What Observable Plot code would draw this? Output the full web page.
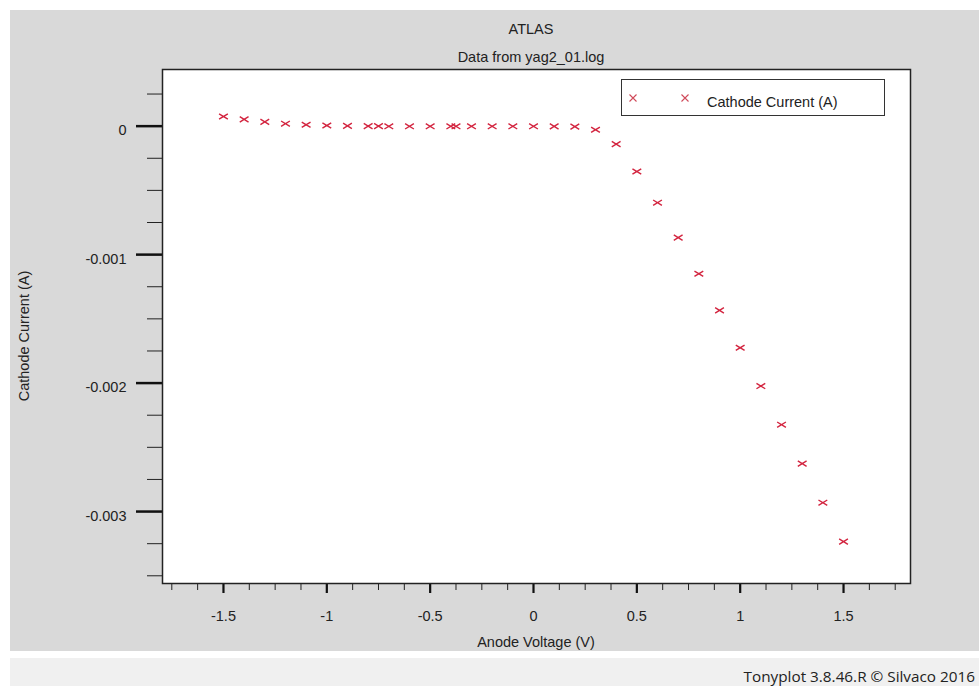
<!DOCTYPE html>
<html>
<head>
<meta charset="utf-8">
<script src="https://cdn.jsdelivr.net/npm/d3@7"></script>
<script src="https://cdn.jsdelivr.net/npm/@observablehq/plot@0.6"></script>
<style>
  html, body { margin: 0; padding: 0; background: #ffffff; }
  body { width: 979px; height: 686px; position: relative; overflow: hidden;
         font-family: "Liberation Sans", Arial, sans-serif; color: #222; }
  .bg { position: absolute; left: 10px; top: 10px; width: 969px; height: 641px; background: #d9d9d9; }
  .strip { position: absolute; left: 10px; top: 658px; width: 969px; height: 28px; background: #f0f0f0; }
  .t { position: absolute; font-size: 14.5px; line-height: 1; white-space: nowrap; }
  #chart { position: absolute; left: 0; top: 0; }
  .legend { position: absolute; left: 621px; top: 79px; width: 262px; height: 35px;
            border: 1.5px solid #333; background: #fff; }
</style>
</head>
<body>
<div class="bg"></div>
<div class="strip"></div>
<div id="chart"></div>
<div class="t" style="left:531px; top:21.5px; transform:translateX(-50%);">ATLAS</div>
<div class="t" style="left:531px; top:49.5px; transform:translateX(-50%);">Data from yag2_01.log</div>
<div class="t" style="left:536px; top:634.5px; transform:translateX(-50%);">Anode Voltage (V)</div>
<div class="t" style="left:24px; top:336px; transform:translate(-50%,-50%) rotate(-90deg);">Cathode Current (A)</div>
<div class="t" style="right:4px; top:667px; font-family:'Open Sans','Noto Sans',sans-serif; font-size:15.3px; line-height:1.2; color:#222;">Tonyplot 3.8.46.R © Silvaco 2016</div>
<div class="legend">
  <svg width="262" height="35" style="position:absolute;left:0;top:0">
    <g stroke="#d04a5a" stroke-width="1.1" fill="none">
      <path d="M7.5,14.5L14.5,21.5M7.5,21.5L14.5,14.5"/>
      <path d="M59.5,14.5L66.5,21.5M59.5,21.5L66.5,14.5"/>
    </g>
  </svg>
  <div class="t" style="left:85px; top:14.5px;">Cathode Current (A)</div>
</div>
<script>
// ---- data ----
const voltage = [-1.5,-1.4,-1.3,-1.2,-1.1,-1.0,-0.9,-0.8,-0.75,-0.7,-0.6,-0.5,-0.4,-0.375,-0.3,-0.2,-0.1,0,0.1,0.2,0.3,0.4,0.5,0.6,0.7,0.8,0.9,1.0,1.1,1.2,1.3,1.4,1.5];
const cathodeCurrent = [7.5e-5,5.3e-5,3.3e-5,1.9e-5,1.1e-5,5e-6,2e-6,0,0,-1e-6,-1e-6,-1e-6,-1e-6,-1e-6,-1e-6,-1e-6,-1e-6,-1e-6,-2e-6,-4e-6,-2.8e-5,-1.4e-4,-3.53e-4,-5.96e-4,-8.68e-4,-1.149e-3,-1.434e-3,-1.725e-3,-2.023e-3,-2.324e-3,-2.627e-3,-2.931e-3,-3.234e-3];
const xTicks = [-1.5,-1,-0.5,0,0.5,1,1.5];
const yTicks = [0,-0.001,-0.002,-0.003];
const xMinorTicks = [-1.75,-1.625,-1.5,-1.375,-1.25,-1.125,-1,-0.875,-0.75,-0.625,-0.5,-0.375,-0.25,-0.125,0,0.125,0.25,0.375,0.5,0.625,0.75,0.875,1,1.125,1.25,1.375,1.5,1.625,1.75];
const yMinorTicks = [0.00025,0,-0.00025,-0.0005,-0.00075,-0.001,-0.00125,-0.0015,-0.00175,-0.002,-0.00225,-0.0025,-0.00275,-0.003,-0.00325,-0.0035];

const data = voltage.map((v, i) => ({v, i: cathodeCurrent[i]}));
const fmt = d => (d === 0 ? "0" : String(d));
const none = () => "";

// flattened "x" marker as drawn by Tonyplot
const xMark = { draw(ctx) { const w = 4.4, h = 2.7;
  ctx.moveTo(-w, -h); ctx.lineTo(w, h); ctx.moveTo(-w, h); ctx.lineTo(w, -h); } };

const chart = Plot.plot({
  width: 979, height: 686,
  marginTop: 69, marginLeft: 162, marginRight: 69, marginBottom: 103,
  style: { background: "transparent", fontFamily: "'Liberation Sans', Arial, sans-serif", fontSize: "14.5px", color: "#222" },
  x: { domain: [-1.795, 1.824] },
  y: { domain: [-0.00356, 0.000441] },
  marks: [
    Plot.frame({ fill: "white", stroke: null }),
    Plot.axisX({ ticks: xMinorTicks, tickSize: 7, tickFormat: none, label: null, stroke: "#222" }),
    Plot.axisX({ ticks: xTicks, tickSize: 10, tickPadding: 17, tickFormat: fmt, label: null, strokeWidth: 2.2, stroke: "#111" }),
    Plot.axisY({ ticks: yMinorTicks, tickSize: 15, tickFormat: none, label: null, stroke: "#222" }),
    Plot.axisY({ ticks: yTicks, tickSize: 26, tickFormat: none, label: null, strokeWidth: 2.5, stroke: "#111" }),
    Plot.axisY({ ticks: yTicks, tickSize: 0, tickPadding: 36, dy: 4.5, tickFormat: fmt, label: null }),
    Plot.frame({ stroke: "#222", strokeWidth: 1.5 }),
    Plot.dot(data, { x: "v", y: "i", symbol: xMark, r: 3, fill: "none", stroke: "#d3243f", strokeWidth: 1.4 })
  ]
});
document.getElementById("chart").appendChild(chart);
</script>
</body>
</html>
